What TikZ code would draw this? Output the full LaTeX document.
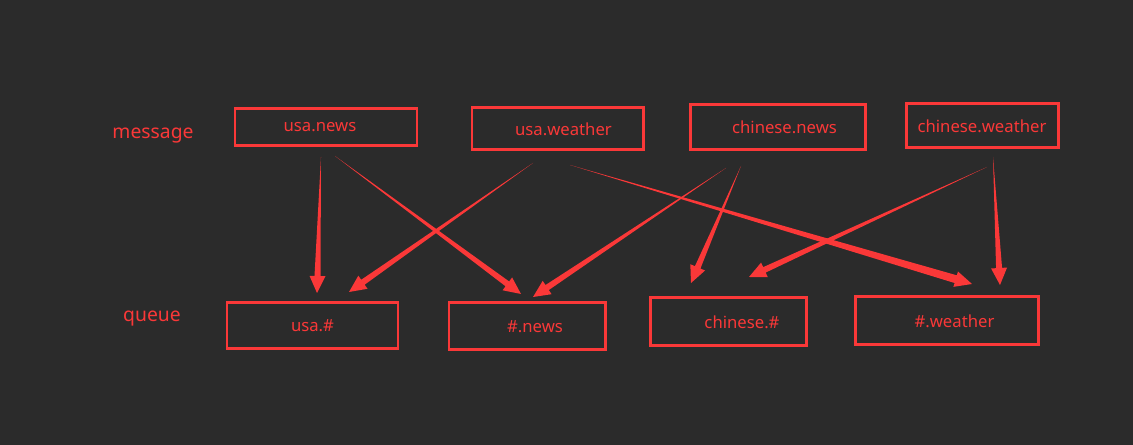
\documentclass[tikz,border=0pt]{standalone}
\usepackage{fontspec}
\setmainfont{Noto Sans}
\usetikzlibrary{calc}
\definecolor{bgdark}{RGB}{43,43,43}
\definecolor{topicred}{RGB}{250,56,56}

% tapered arrow: thin at the tail, wide at the head
\newcommand\taper[3][0.06cm]{%
  \path ($(#3)!0.34cm!(#2)$) coordinate (hb);
  \fill[topicred] (#2) -- ($(hb)!#1!90:(#2)$) -- ($(hb)!0.16cm!90:(#2)$) -- (#3)
        -- ($(hb)!0.16cm!-90:(#2)$) -- ($(hb)!#1!-90:(#2)$) -- cycle;}

\begin{document}
\begin{tikzpicture}[
  keybox/.style={draw=topicred,line width=1.7pt,text=topicred,font=\fontsize{9.5}{11}\selectfont,inner sep=0pt},
  rowlabel/.style={text=topicred,font=\fontsize{11}{13}\selectfont}]
\fill[bgdark] (0,0) rectangle (22.66,8.9);
\useasboundingbox (0,0) rectangle (22.66,8.9);

\node[rowlabel] (msg) at (3.06,6.18) {message};
\node[rowlabel] (que) at (3.04,2.52) {queue};

\node[keybox,minimum width=3.64cm,minimum height=0.74cm] (usanews) at (6.52,6.35) {usa.news\hspace*{0.24cm}};
\node[keybox,minimum width=3.42cm,minimum height=0.84cm] (usaweather) at (11.15,6.32) {\hspace*{0.24cm}usa.weather};
\node[keybox,minimum width=3.5cm,minimum height=0.9cm] (cnnews) at (15.55,6.35) {\hspace*{0.28cm}chinese.news};
\node[keybox,minimum width=3.04cm,minimum height=0.88cm] (cnweather) at (19.64,6.38) {chinese.weather};

\node[keybox,minimum width=3.42cm,minimum height=0.92cm] (usaall) at (6.25,2.38) {usa.\#};
\node[keybox,minimum width=3.12cm,minimum height=0.94cm] (allnews) at (10.54,2.37) {\hspace*{0.32cm}\#.news};
\node[keybox,minimum width=3.12cm,minimum height=0.96cm] (cnall) at (14.56,2.46) {\hspace*{0.56cm}chinese.\#};
\node[keybox,minimum width=3.66cm,minimum height=0.96cm] (allweather) at (18.93,2.48) {\hspace*{0.32cm}\#.weather};

\coordinate (usanews-a) at (6.42,5.76);
\coordinate (usanews-b) at (6.70,5.78);
\coordinate (usaweather-a) at (10.66,5.64);
\coordinate (usaweather-b) at (11.40,5.60);
\coordinate (cnnews-a) at (14.52,5.54);
\coordinate (cnnews-b) at (14.82,5.58);
\coordinate (cnweather-a) at (19.74,5.56);
\coordinate (cnweather-b) at (19.86,5.76);

\coordinate (usaall-a) at (6.34,3.04);
\coordinate (usaall-b) at (6.98,3.06);
\coordinate (allnews-a) at (10.42,3.02);
\coordinate (allnews-b) at (10.66,2.96);
\coordinate (cnall-a) at (13.82,3.24);
\coordinate (cnall-b) at (14.98,3.36);
\coordinate (allweather-a) at (19.44,3.22);
\coordinate (allweather-b) at (20.00,3.20);

\taper{usanews-a}{usaall-a}
\taper{usanews-b}{allnews-a}
\taper{usaweather-a}{usaall-b}
\taper[0.08cm]{usaweather-b}{allweather-a}
\taper{cnnews-a}{allnews-b}
\taper{cnnews-b}{cnall-a}
\taper{cnweather-a}{cnall-b}
\taper{cnweather-b}{allweather-b}
\end{tikzpicture}
\end{document}
